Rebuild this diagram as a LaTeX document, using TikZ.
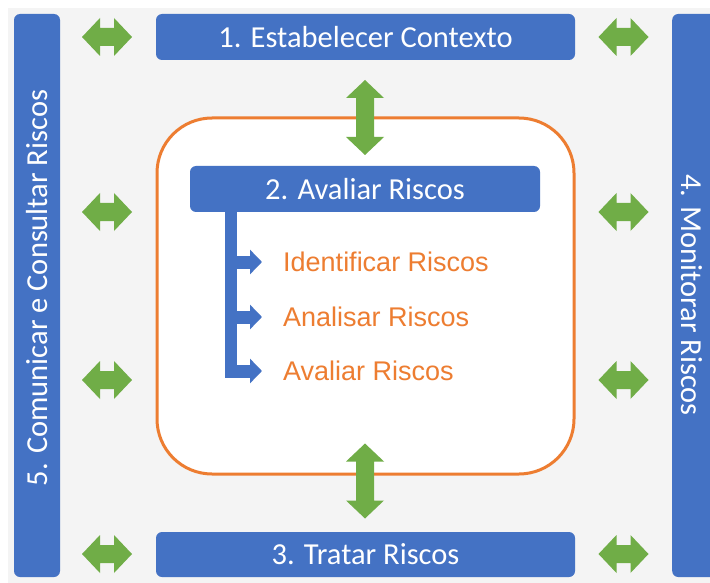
\documentclass[tikz,border=0pt]{standalone}
\usepackage{fontspec}
\newfontfamily\barfont{Carlito}
\newfontfamily\itemfont{Liberation Sans}
\usepackage{xcolor}
\usetikzlibrary{arrows.meta}
\definecolor{barblue}{RGB}{68,114,196}
\definecolor{linkgreen}{RGB}{112,173,71}
\definecolor{riskorange}{RGB}{237,125,49}
\definecolor{bggray}{RGB}{244,244,244}
\tikzset{
	pics/dblarrow/.style={code={
		\fill[linkgreen] (-#1,0) -- (-#1+18,19) -- (-#1+18,9) -- (#1-18,9) -- (#1-18,19)
			-- (#1,0) -- (#1-18,-19) -- (#1-18,-9) -- (-#1+18,-9) -- (-#1+18,-19) -- cycle;
	}}
}

\begin{document}
\begin{tikzpicture}[x=1pt,y=-1pt,
	bar/.style={fill=barblue,rounded corners=6pt,text=white,inner sep=0pt,
		font=\barfont\fontsize{30.5}{30.5}\selectfont},
	bartext/.style={text=white,inner sep=0pt,font=\barfont\fontsize{30.5}{30.5}\selectfont},
	item/.style={anchor=west,inner sep=0pt,text=riskorange,
		font=\itemfont\fontsize{27}{27}\selectfont},
	frame/.style={draw=riskorange,line width=3pt,fill=white,rounded corners=55pt},
	stemline/.style={draw=barblue,line width=12pt},
	branch/.style={draw=barblue,line width=13pt,shorten >=21pt,
		-{Triangle[length=12pt,width=24pt]}}]
	
	\useasboundingbox (0,0) rectangle (710,583);
	\fill[bggray] (8,8) rectangle (710,583);
	
	% side bars
	\node[bar,minimum width=46pt,minimum height=563pt] (comunicar) at (37,295.5) {};
	\node[bartext,rotate=90] at (37,288) {5. Comunicar e Consultar Riscos};
	\node[bar,minimum width=48pt,minimum height=563pt,anchor=west] (monitorar) at (672,295.5) {};
	\node[bartext,rotate=-90] at (692,295) {4. Monitorar Riscos};
	
	% top and bottom bars
	\node[bar,minimum width=419pt,minimum height=46pt] (estab) at (365.5,37) {1. Estabelecer Contexto};
	\node[bar,minimum width=419pt,minimum height=45pt] (tratar) at (365.5,554.5) {3. Tratar Riscos};
	
	% inner frame
	\node[frame,minimum width=417pt,minimum height=356pt] (box) at (365.5,296) {};
	\node[bar,minimum width=350pt,minimum height=46pt] (avaliar) at (365,189) {2. Avaliar Riscos};
	
	\node[item] (ident) at (283,262) {Identificar Riscos};
	\node[item] (anal) at (283,317) {Analisar Riscos};
	\node[item] (aval) at (283,371) {Avaliar Riscos};
	
	\coordinate (stemtop) at (231,211);
	\coordinate (stembot) at (231,377.5);
	\draw[stemline] (stemtop) -- (stembot);
	\foreach \n in {ident,anal,aval}
		\draw[branch] (stemtop |- \n.west) -- (\n.west);
	
	% green links
	\foreach \y in {37,212,380,554}{
		\pic at (107,\y) {dblarrow=25};
		\pic at (623.5,\y) {dblarrow=25};
	}
	\pic[rotate=90] at (365,117.5) {dblarrow=37.5};
	\pic[rotate=90] at (365,481) {dblarrow=37.5};
	
\end{tikzpicture}
\end{document}
